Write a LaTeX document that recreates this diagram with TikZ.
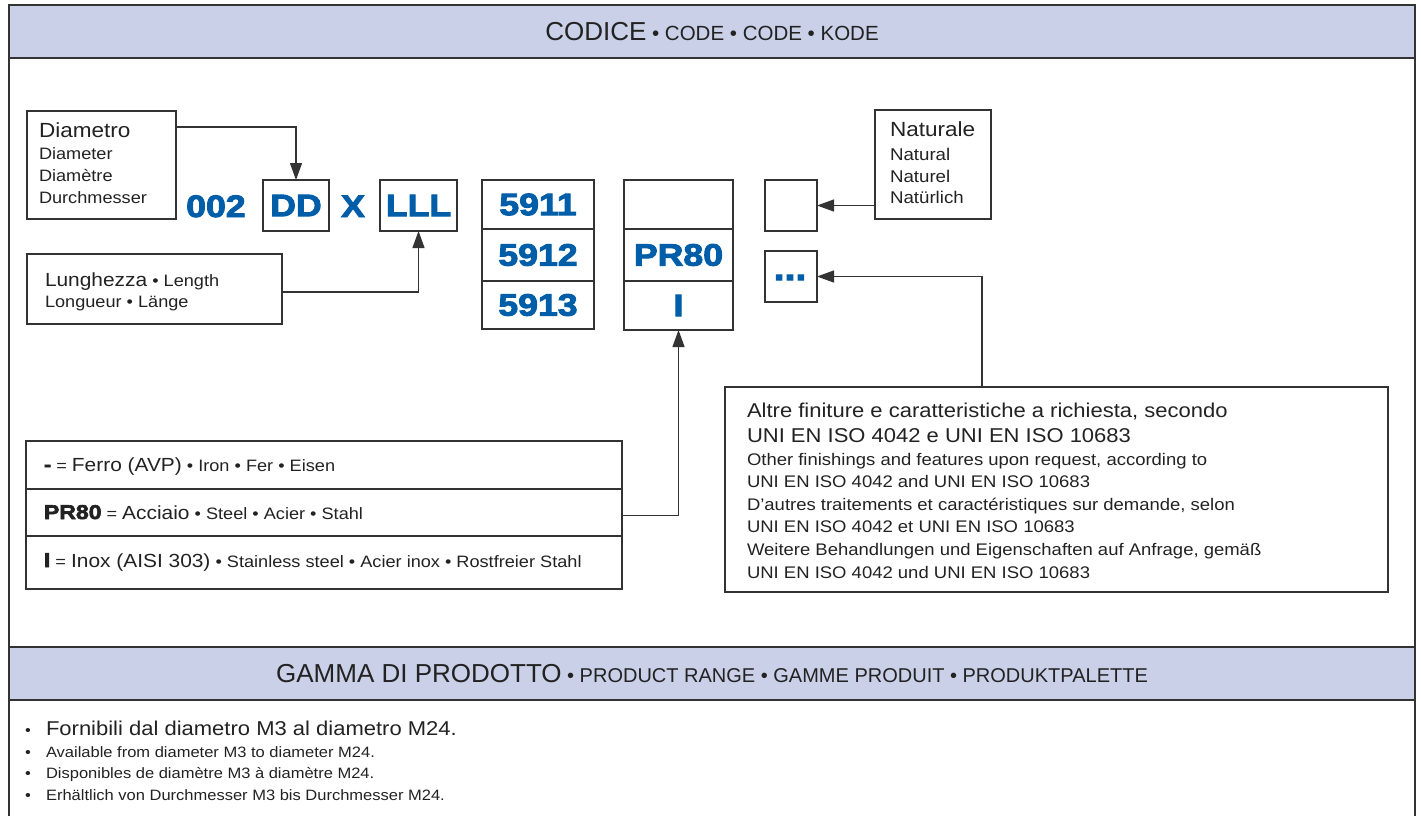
\documentclass[tikz,border=0pt]{standalone}
\usepackage{fontspec}
\setmainfont{Liberation Sans}[FakeStretch=1.1]
\newfontfamily\hdfont{Liberation Sans}
\newfontfamily\codefont{Liberation Sans}[FakeStretch=1.15, BoldFeatures={FakeBold=3}]
\usetikzlibrary{arrows.meta}
\definecolor{bandc}{HTML}{C9D0E8}
\definecolor{ln}{HTML}{333333}
\definecolor{tx}{HTML}{222222}
\definecolor{cblue}{HTML}{005EA8}
\newcommand\fs[1]{\fontsize{#1}{#1}\selectfont}
\tikzset{
  box/.style={draw=ln, line width=1.4pt, inner sep=0pt, outer sep=0pt, rectangle},
  bandnode/.style={fill=bandc, draw=ln, line width=1.2pt, inner sep=0pt, outer sep=0pt, rectangle, minimum width=1406pt, minimum height=53pt, text=tx, font=\hdfont},
  arr/.style={draw=ln, line width=1.2pt, -{Triangle[length=17pt,width=12pt]}},
  lbl/.style={anchor=base west, inner sep=0pt, outer sep=0pt, text=tx},
  code/.style={font=\codefont\bfseries\fs{31}, text=cblue},
}
\begin{document}
\begin{tikzpicture}[x=1pt,y=-1pt]
\useasboundingbox (0,0) rectangle (1421,816);
% bands
\node[bandnode] (hdr) at (712,31.5) {\fs{26}CODICE\fs{20.5} • CODE • CODE • KODE};
\node[bandnode] (rng) at (712,673.5) {\fs{26}GAMMA DI PRODOTTO\fs{20} • PRODUCT RANGE • GAMME PRODUIT • PRODUKTPALETTE};
% frame
\draw[ln, line width=1.3pt] (9,816) -- (9,5) -- (1415,5) -- (1415,816);

% left labels
\node[box, minimum width=149pt, minimum height=108pt] (diam) at (101.5,165) {};
\node[lbl, font=\fs{20.5}] (diamA) at (39,137) {Diametro};
\node[lbl, font=\fs{16.5}] (diamB) at (39,159) {Diameter};
\node[lbl, font=\fs{16.5}] (diamC) at (39,181) {Diamètre};
\node[lbl, font=\fs{16.5}] (diamD) at (39,203) {Durchmesser};

\node[box, minimum width=255pt, minimum height=70pt] (lung) at (154.5,289) {};
\node[lbl, font=\fs{19}] (lungA) at (45,286) {Lunghezza\fs{16.5} • Length};
\node[lbl, font=\fs{16.5}] (lungB) at (45,307) {Longueur • Länge};

% code row
\node[code, anchor=base west, inner sep=0pt] (c002) at (186,217) {002};
\node[box, code, minimum width=66pt, minimum height=51pt] (dd) at (296,205.5) {DD};
\node[code, anchor=base, inner sep=0pt] (cx) at (353,217) {X};
\node[box, code, minimum width=77pt, minimum height=51pt] (lll) at (418.5,205.5) {LLL};

\node[box, code, minimum width=112pt, minimum height=49pt] (s1) at (538,204.5) {5911};
\node[box, code, minimum width=112pt, minimum height=52pt] (s2) at (538,255) {5912};
\node[box, code, minimum width=112pt, minimum height=48pt] (s3) at (538,305) {5913};

\node[box, code, minimum width=109pt, minimum height=49pt] (p1) at (678.5,204.5) {};
\node[box, code, minimum width=109pt, minimum height=52pt] (p2) at (678.5,255) {PR80};
\node[box, code, minimum width=109pt, minimum height=49pt] (p3) at (678.5,305.5) {I};

\node[box, minimum width=52pt, minimum height=51pt] (sq) at (791,205.5) {};
\node[box, minimum width=52pt, minimum height=51pt] (dots) at (791,276.5) {};
\node[code, anchor=base, inner sep=0pt, font=\codefont\bfseries\fs{34}] (dotst) at (790,280) {...};

% naturale
\node[box, minimum width=116pt, minimum height=109pt] (nat) at (933,164.5) {};
\node[lbl, font=\fs{20.5}] (natA) at (890,136) {Naturale};
\node[lbl, font=\fs{17}] (natB) at (890,160) {Natural};
\node[lbl, font=\fs{17}] (natC) at (890,182) {Naturel};
\node[lbl, font=\fs{17}] (natD) at (890,203) {Natürlich};

% materials
\node[box, minimum width=596pt, minimum height=48pt] (m1) at (324,465) {};
\node[box, minimum width=596pt, minimum height=47pt] (m2) at (324,512.5) {};
\node[box, minimum width=596pt, minimum height=53pt] (m3) at (324,562.5) {};
\node[lbl] (m1t) at (44,471) {{\codefont\bfseries\fs{19}-}\fs{16.5} = \fs{19}Ferro (AVP)\fs{16.5} • Iron • Fer • Eisen};
\node[lbl] (m2t) at (44,519) {{\codefont\bfseries\fs{20}PR80}\fs{16.5} = \fs{19}Acciaio\fs{16.5} • Steel • Acier • Stahl};
\node[lbl] (m3t) at (44,567) {{\codefont\bfseries\fs{20}I}\fs{16.5} = \fs{19}Inox (AISI 303)\fs{16.5} • Stainless steel • Acier inox • Rostfreier Stahl};

% big note
\node[box, minimum width=663pt, minimum height=205pt] (big) at (1056.5,489.5) {};
\node[lbl, font=\fs{20}] (b1) at (747,417) {Altre finiture e caratteristiche a richiesta, secondo};
\node[lbl, font=\fs{20}] (b2) at (747,442) {UNI EN ISO 4042 e UNI EN ISO 10683};
\node[lbl, font=\fs{16.8}] (b3) at (747,465) {Other finishings and features upon request, according to};
\node[lbl, font=\fs{16.8}] (b4) at (747,487) {UNI EN ISO 4042 and UNI EN ISO 10683};
\node[lbl, font=\fs{16.8}] (b5) at (747,510) {D’autres traitements et caractéristiques sur demande, selon};
\node[lbl, font=\fs{16.8}] (b6) at (747,532) {UNI EN ISO 4042 et UNI EN ISO 10683};
\node[lbl, font=\fs{16.8}] (b7) at (747,555) {Weitere Behandlungen und Eigenschaften auf Anfrage, gemäß};
\node[lbl, font=\fs{16.8}] (b8) at (747,578) {UNI EN ISO 4042 und UNI EN ISO 10683};

% product range list
\node[lbl, font=\fs{15}] (r1b) at (25,735) {•};
\node[lbl, font=\fs{20}] (r1) at (46,735) {Fornibili dal diametro M3 al diametro M24.};
\node[lbl, font=\fs{15}] (r2b) at (25,757) {•};
\node[lbl, font=\fs{15}] (r2) at (46,757) {Available from diameter M3 to diameter M24.};
\node[lbl, font=\fs{15}] (r3b) at (25,778) {•};
\node[lbl, font=\fs{15}] (r3) at (46,778) {Disponibles de diamètre M3 à diamètre M24.};
\node[lbl, font=\fs{15}] (r4b) at (25,800) {•};
\node[lbl, font=\fs{15}] (r4) at (46,800) {Erhältlich von Durchmesser M3 bis Durchmesser M24.};

% connectors
\draw[arr] ([yshift=-16pt]diam.north east) -| (dd.north);
\draw[arr] ([yshift=-3pt]lung.east) -| (lll.south);
\draw[arr] (nat.west |- sq.east) -- (sq.east);
\draw[arr] ([xshift=-74.5pt]big.north) |- (dots.east);
\draw[arr] ([yshift=-3pt]m2.east) -| (p3.south);
\end{tikzpicture}
\end{document}
